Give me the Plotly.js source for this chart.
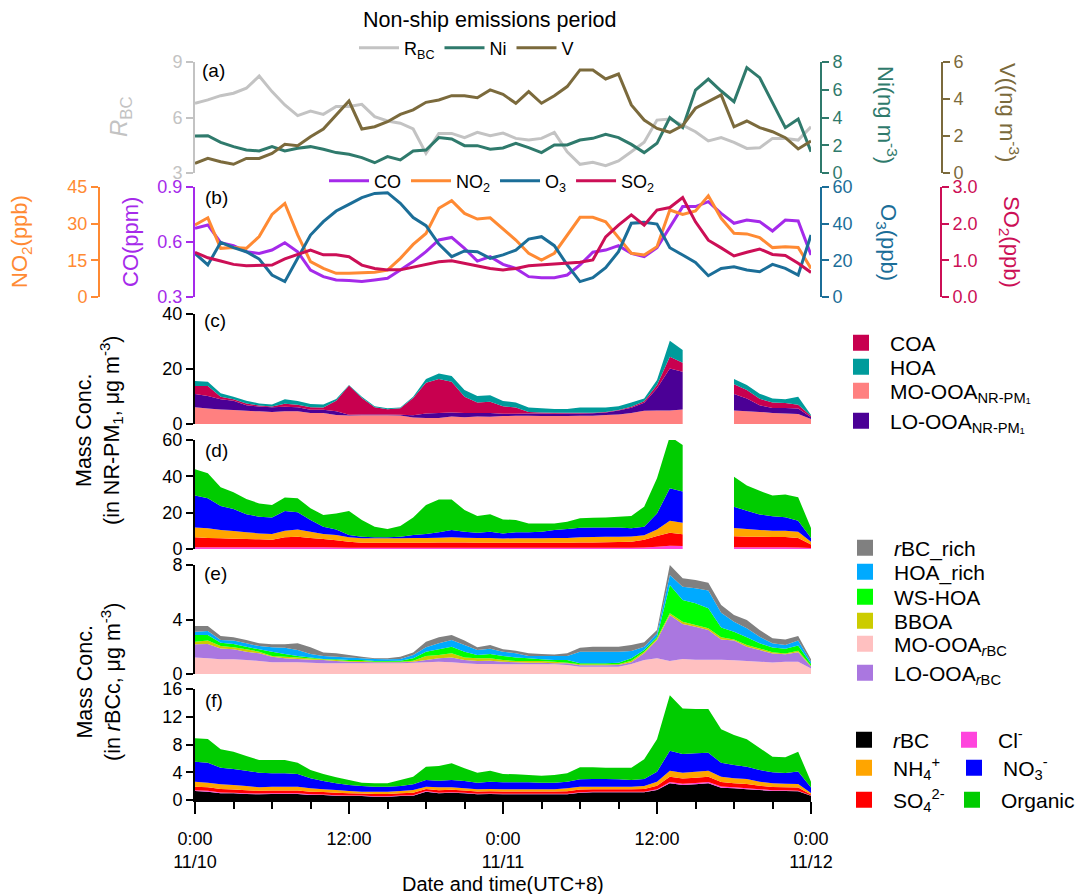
<!DOCTYPE html>
<html><head><meta charset="utf-8">
<script src="https://cdn.plot.ly/plotly-3.0.1.min.js"></script>
<style>body{margin:0;padding:0;background:#fff}#chart{width:1080px;height:894px}</style>
</head><body><div id="chart"></div>
<script>
// ---- time axis (hours since 0:00 11/10) ----
const hours = [0,1,2,3,4,5,6,7,8,9,10,11,12,13,14,15,16,17,18,19,20,21,22,23,24,25,26,27,28,29,30,31,32,33,34,35,36,37,38,39,40,41,42,43,44,45,46,47,48];
const tickHours = [0,12,24,36,48];
const tickLabels = ['0:00<br>11/10','12:00','0:00<br>11/11','12:00','0:00<br>11/12'];

// ---- (a) ----
const rbc = [6.77,6.95,7.18,7.31,7.58,8.24,7.40,6.68,6.10,6.35,6.17,6.59,6.59,6.71,6.05,5.81,5.69,5.38,4.06,5.14,5.14,4.91,5.20,5.02,5.16,4.87,4.78,4.87,5.20,4.15,3.47,3.58,3.40,3.65,4.15,4.66,5.86,5.92,5.59,5.23,4.73,4.91,4.66,4.33,4.36,4.87,4.87,4.78,5.50];
const ni = [2.67,2.69,2.21,1.90,1.66,1.59,1.90,1.59,1.78,1.90,1.71,1.47,1.35,1.11,0.74,1.18,0.94,1.59,1.66,2.55,2.45,1.97,1.97,1.71,1.80,2.14,1.83,1.47,2.02,2.02,2.38,2.50,2.79,2.55,2.06,1.47,2.14,3.99,3.27,5.98,6.77,5.91,5.14,7.59,6.87,5.02,3.27,3.89,1.54];
const vAna = [0.52,0.79,0.61,0.47,0.79,0.79,1.06,1.55,1.48,1.96,2.38,3.14,3.89,2.38,2.50,2.77,3.17,3.41,3.82,3.95,4.18,4.18,4.07,4.49,4.25,3.77,4.40,3.77,4.18,4.67,5.57,5.57,5.08,5.35,3.68,2.86,2.41,2.20,2.56,3.50,3.86,4.22,2.50,2.81,2.45,2.23,1.91,1.30,1.73];

// ---- (b) ----
const co = [0.675,0.693,0.596,0.58,0.547,0.538,0.556,0.596,0.547,0.447,0.411,0.393,0.39,0.384,0.393,0.402,0.447,0.493,0.547,0.611,0.625,0.565,0.496,0.52,0.478,0.456,0.411,0.405,0.405,0.42,0.475,0.544,0.556,0.58,0.538,0.52,0.569,0.684,0.793,0.793,0.82,0.756,0.702,0.72,0.711,0.66,0.72,0.715,0.529];
const no2 = [29.5,32.4,19.9,20.3,19.9,24.7,33.8,38.3,25.4,14.5,11.7,9.7,9.7,9.8,10.1,11.0,15.8,21.5,26.0,36.3,39.4,34.2,31.9,32.4,28.0,23.3,17.9,15.1,17.9,25.4,32.6,32.6,30.8,24.3,17.9,17.2,20.6,35.6,33.8,35.2,41.4,32.2,26.1,25.8,24.3,20.2,20.6,20.3,11.7];
const o3 = [23.8,17.5,29.8,26.9,24.7,20.7,12.0,8.4,21.1,33.8,41.1,46.9,50.5,54.2,56.5,56.9,51.1,43.3,38.9,28.9,22.0,25.1,24.7,21.1,23.0,25.6,31.6,32.9,28.0,17.5,8.4,10.5,16.0,24.7,40.2,40.7,39.8,26.9,22.9,18.9,11.6,15.6,16.5,14.7,13.8,17.8,15.6,12.0,33.8];
const so2 = [1.22,1.07,0.98,0.89,0.85,0.86,0.87,1.04,1.15,1.28,1.15,1.15,1.10,0.87,0.78,0.74,0.74,0.81,0.87,0.96,0.99,0.92,0.85,0.78,0.74,0.78,0.85,0.87,0.89,0.92,0.95,1.01,1.64,1.96,2.24,1.96,2.37,2.44,2.71,2.05,1.55,1.34,1.12,1.22,1.31,1.16,1.13,0.92,0.67];

// ---- (c) NR-PM1 OA factors (null = no data) ----
const moNR = [6.1,5.6,5.3,5.1,4.8,4.6,4.4,4.6,4.6,4.0,4.0,3.3,3.1,3.2,3.2,3.2,3.1,2.4,2.2,2.2,2.7,2.5,2.7,2.6,2.9,3.0,3.0,2.9,2.9,2.9,3.0,3.0,3.3,3.5,4.0,4.8,4.9,4.9,5.3,null,null,null,4.9,4.6,4.4,4.0,3.8,3.6,1.8];
const loNR = [4.8,4.6,3.7,3.4,2.0,1.8,1.7,1.7,1.5,1.2,1.2,1.3,0.3,0.3,0.3,0.3,0.3,0.8,1.6,1.8,1.5,1.5,1.3,1.4,0.8,0.7,0.8,0.9,0.8,0.9,0.8,0.9,0.9,1.4,1.9,2.9,8.1,15.3,13.7,null,null,null,6.0,4.7,2.4,1.8,2.0,2.0,0.7];
const coa = [2.9,3.6,0.9,0.5,0.7,0.3,0.3,1.1,0.9,0.9,0.8,3.9,10.6,6.0,2.6,1.9,2.3,6.3,11.2,12.4,11.2,5.9,3.8,4.1,2.8,2.3,0.6,0.4,0.4,0.3,0.3,0.2,0.2,0.2,0.4,0.6,1.2,4.3,3.3,null,null,null,3.6,3.1,2.4,2.0,1.8,1.4,0.4];
const hoaNR = [1.8,1.6,1.3,0.9,1.0,0.8,0.7,1.6,1.4,1.2,1.1,0.6,0.2,0.4,0.4,0.3,0.3,0.4,1.4,2.0,2.1,2.5,2.4,2.4,1.9,1.8,1.6,1.5,1.4,1.4,1.9,1.9,1.6,1.4,1.5,1.0,1.8,5.8,4.6,null,null,null,1.9,1.8,1.8,1.5,1.4,2.9,0.4];

// ---- (d) NR-PM1 species ----
const clD = [0.9,0.9,0.9,0.9,0.9,0.9,0.9,0.9,0.9,0.9,0.9,0.8,0.7,0.7,0.7,0.7,0.7,0.7,0.7,0.7,0.7,0.7,0.7,0.7,0.7,0.7,0.7,0.7,0.7,0.7,0.7,0.7,0.7,0.7,0.7,0.8,1.2,1.8,1.6,null,null,null,0.9,0.9,0.9,0.9,0.9,0.8,0.5];
const so4D = [5.5,5.1,5.0,4.8,4.6,4.4,4.2,5.5,5.9,5.1,4.6,4.0,3.3,2.8,2.8,2.8,2.8,2.8,2.8,2.9,2.9,2.9,2.8,2.8,2.7,2.7,2.7,2.7,2.8,2.8,2.9,2.9,3.0,3.1,3.3,4.3,6.0,7.2,6.5,null,null,null,6.1,5.9,5.9,5.7,5.7,5.2,2.0];
const nh4D = [5.5,5.4,4.6,4.2,3.7,3.3,3.2,3.7,4.0,3.5,2.8,2.9,2.4,2.4,2.4,2.4,2.4,2.5,2.5,2.6,2.8,2.6,2.5,2.5,2.4,2.5,2.5,2.5,2.5,2.6,2.8,3.0,3.1,3.0,2.9,2.5,3.6,6.6,6.4,null,null,null,4.5,4.2,3.7,3.4,3.4,3.5,1.5];
const no3D = [17.5,16.5,13.2,12.1,9.9,9.2,9.1,10.8,9.4,6.5,4.0,3.1,1.3,0.9,0.5,0.5,0.9,1.7,2.3,3.0,4.1,3.3,3.0,3.5,2.8,3.3,3.3,3.6,4.5,4.9,5.3,5.3,5.1,5.1,4.5,4.7,8.8,17.8,17.1,null,null,null,11.8,10.0,8.5,8.0,7.5,6.0,2.0];
const orgD = [14.5,13.8,10.3,9.2,8.4,7.3,6.8,7.5,7.7,6.4,6.4,8.8,13.2,9.2,5.9,4.6,5.9,9.7,15.9,18.1,16.8,12.0,9.2,9.6,7.7,6.8,4.9,4.6,3.6,4.0,5.2,5.3,5.5,5.9,6.8,11.0,19.3,28.6,25.7,null,null,null,16.5,14.0,13.0,11.5,12.5,13.0,5.5];

// ---- (e) rBCc OA factors ----
const moRBC = [1.22,1.15,1.08,1.08,1.03,0.95,0.86,0.86,0.86,0.83,0.78,0.78,0.78,0.78,0.78,0.78,0.78,0.83,0.86,0.90,0.86,0.78,0.73,0.73,0.71,0.71,0.71,0.71,0.71,0.66,0.54,0.54,0.54,0.54,0.73,1.03,1.15,0.95,1.10,1.05,1.05,1.05,1.00,0.95,0.90,0.85,0.90,0.90,0.40];
const loRBC = [0.96,1.05,0.80,0.73,0.61,0.57,0.41,0.29,0.24,0.22,0.25,0.17,0.12,0.10,0.08,0.08,0.08,0.07,0.17,0.25,0.36,0.25,0.22,0.25,0.19,0.15,0.12,0.12,0.07,0.12,0.10,0.10,0.10,0.12,0.13,0.49,1.35,3.38,2.57,2.42,2.18,1.49,1.45,1.05,0.86,0.65,0.55,0.70,0.15];
const bboa = [0.19,0.25,0.17,0.15,0.17,0.12,0.05,0.12,0.12,0.08,0.05,0.08,0.05,0.07,0.04,0.04,0.04,0.08,0.29,0.24,0.30,0.19,0.20,0.17,0.13,0.09,0.12,0.12,0.12,0.05,0.07,0.07,0.07,0.05,0.12,0.12,0.12,0.12,0.17,0.13,0.12,0.15,0.09,0.13,0.12,0.10,0.05,0.10,0.05];
const wsHoa = [0.49,0.41,0.25,0.24,0.19,0.17,0.32,0.20,0.10,0.08,0.02,0.05,0.08,0.08,0.05,0.05,0.08,0.17,0.32,0.42,0.48,0.42,0.24,0.32,0.29,0.27,0.20,0.13,0.13,0.20,0.07,0.07,0.07,0.12,0.17,0.12,0.12,2.08,1.59,1.59,1.47,0.73,0.57,0.56,0.37,0.35,0.35,0.40,0.15];
const hoaRich = [0.25,0.29,0.20,0.25,0.25,0.24,0.32,0.46,0.44,0.26,0.22,0.19,0.19,0.12,0.15,0.13,0.12,0.24,0.32,0.44,0.50,0.49,0.37,0.39,0.32,0.30,0.17,0.24,0.29,0.29,0.86,0.86,0.86,0.81,0.54,0.24,0.24,0.74,0.98,1.10,1.30,1.08,0.73,0.66,0.49,0.30,0.28,0.35,0.15];
const rbcRich = [0.41,0.37,0.29,0.24,0.25,0.20,0.22,0.25,0.49,0.49,0.25,0.25,0.17,0.12,0.05,0.07,0.17,0.18,0.41,0.44,0.36,0.32,0.20,0.27,0.17,0.19,0.20,0.15,0.12,0.20,0.29,0.36,0.36,0.36,0.44,0.33,0.25,0.73,0.61,0.61,0.58,0.56,0.49,0.61,0.49,0.37,0.41,0.34,0.18];

// ---- (f) rBCc species ----
const rbcF = [1.30,1.20,0.96,0.96,0.86,0.82,0.86,0.86,0.86,0.72,0.72,0.62,0.58,0.58,0.48,0.48,0.58,0.62,1.20,0.96,1.05,0.96,0.82,0.86,0.82,0.82,0.82,0.82,0.82,0.82,1.05,1.11,1.11,1.11,1.11,1.11,1.44,2.40,2.16,2.26,2.40,1.78,1.68,1.54,1.44,1.30,1.30,1.25,0.60];
const clF = [0.12,0.12,0.12,0.10,0.10,0.10,0.10,0.10,0.10,0.10,0.08,0.08,0.08,0.07,0.07,0.07,0.07,0.08,0.08,0.08,0.08,0.08,0.08,0.08,0.08,0.08,0.08,0.08,0.08,0.08,0.08,0.08,0.08,0.08,0.08,0.08,0.10,0.20,0.20,0.20,0.20,0.15,0.15,0.15,0.12,0.12,0.10,0.10,0.05];
const so4F = [0.50,0.50,0.50,0.45,0.45,0.40,0.40,0.40,0.40,0.38,0.35,0.35,0.32,0.28,0.32,0.32,0.32,0.35,0.32,0.37,0.34,0.32,0.32,0.32,0.32,0.32,0.32,0.32,0.32,0.36,0.37,0.35,0.35,0.35,0.35,0.40,0.50,0.75,0.75,0.75,0.75,0.65,0.60,0.60,0.50,0.45,0.45,0.45,0.15];
const nh4F = [0.72,0.68,0.68,0.65,0.61,0.51,0.56,0.56,0.56,0.48,0.39,0.39,0.32,0.27,0.33,0.33,0.33,0.39,0.32,0.42,0.36,0.32,0.32,0.34,0.32,0.32,0.32,0.32,0.32,0.42,0.42,0.38,0.38,0.38,0.38,0.43,0.60,0.88,0.83,0.87,0.88,0.78,0.69,0.74,0.58,0.53,0.50,0.50,0.20];
const no3F = [2.88,2.88,2.40,2.31,2.21,2.11,1.92,1.92,1.83,1.44,1.20,0.96,0.86,0.82,0.72,0.72,0.72,0.82,0.96,0.96,1.05,1.06,0.96,1.04,1.01,1.01,1.01,0.96,0.96,0.96,1.06,1.11,1.11,1.06,0.96,1.01,1.44,2.87,2.69,2.65,2.59,2.02,1.92,1.77,1.68,1.60,1.55,1.80,0.80];
const orgF = [3.37,3.41,2.64,2.49,2.11,1.82,1.92,1.92,1.63,1.20,1.01,0.87,0.72,0.48,0.48,0.48,0.86,1.10,1.92,2.11,2.40,1.82,1.44,1.59,1.20,1.15,1.05,1.01,1.10,1.20,1.73,1.68,1.63,1.68,1.78,2.83,4.66,8.00,6.57,6.37,6.28,4.82,4.33,3.94,3.18,2.24,2.25,2.86,0.84];

// ---------------- drawing ----------------
const W = 1080, H = 894;
const FONT = 'Liberation Sans, Arial, sans-serif';
const px = v => v / W;
const py = v => 1 - v / H;

const C = {
  rbc:'#c3c3c3', ni:'#2f7a6c', v:'#7b6a3c',
  co:'#a52aea', no2:'#ff8a33', o3:'#1b6e98', so2:'#cc0f56',
  coa:'#c8004f', hoa:'#009b9b', moNR:'#ff8080', loNR:'#4b0096',
  org:'#00cc00', no3:'#0000ff', nh4:'#ffa500', so4:'#ff0000', cl:'#ff44dd', bc:'#000000',
  rbcRich:'#808080', hoaRich:'#00aaff', ws:'#00ff00', bboa:'#cccc00', moRBC:'#ffc0c0', loRBC:'#aa77e0'
};

const traces = [];
function lineTr(y, name, color, yaxis, legend) {
  traces.push({x: hours, y: y, name: name, type: 'scatter', mode: 'lines', xaxis: 'x', yaxis: yaxis,
    line: {color: color, width: 3}, legend: legend, hoverinfo: 'skip'});
}
lineTr(rbc, 'R<sub>BC</sub>', C.rbc, 'y', 'legend');
lineTr(ni, 'Ni', C.ni, 'y2', 'legend');
lineTr(vAna, 'V', C.v, 'y3', 'legend');
lineTr(co, 'CO', C.co, 'y4', 'legend2');
lineTr(no2, 'NO<sub>2</sub>', C.no2, 'y5', 'legend2');
lineTr(o3, 'O<sub>3</sub>', C.o3, 'y6', 'legend2');
lineTr(so2, 'SO<sub>2</sub>', C.so2, 'y7', 'legend2');

function areaTr(xs, ys, color, yaxis, group) {
  traces.push({x: xs, y: ys, type: 'scatter', mode: 'none', stackgroup: group, fillcolor: color,
    xaxis: 'x', yaxis: yaxis, showlegend: false, hoverinfo: 'skip'});
}
// panels with a data gap: draw each continuous segment as its own stack
const segs = [[0, 39], [42, 49]];
segs.forEach((s, k) => {
  const sl = a => a.slice(s[0], s[1]);
  const xs = sl(hours);
  areaTr(xs, sl(moNR), C.moNR, 'y8', 'c' + k);
  areaTr(xs, sl(loNR), C.loNR, 'y8', 'c' + k);
  areaTr(xs, sl(coa), C.coa, 'y8', 'c' + k);
  areaTr(xs, sl(hoaNR), C.hoa, 'y8', 'c' + k);
  areaTr(xs, sl(clD), C.cl, 'y9', 'd' + k);
  areaTr(xs, sl(so4D), C.so4, 'y9', 'd' + k);
  areaTr(xs, sl(nh4D), C.nh4, 'y9', 'd' + k);
  areaTr(xs, sl(no3D), C.no3, 'y9', 'd' + k);
  areaTr(xs, sl(orgD), C.org, 'y9', 'd' + k);
});
areaTr(hours, moRBC, C.moRBC, 'y10', 'e');
areaTr(hours, loRBC, C.loRBC, 'y10', 'e');
areaTr(hours, bboa, C.bboa, 'y10', 'e');
areaTr(hours, wsHoa, C.ws, 'y10', 'e');
areaTr(hours, hoaRich, C.hoaRich, 'y10', 'e');
areaTr(hours, rbcRich, C.rbcRich, 'y10', 'e');
areaTr(hours, rbcF, C.bc, 'y11', 'f');
areaTr(hours, clF, C.cl, 'y11', 'f');
areaTr(hours, so4F, C.so4, 'y11', 'f');
areaTr(hours, nh4F, C.nh4, 'y11', 'f');
areaTr(hours, no3F, C.no3, 'y11', 'f');
areaTr(hours, orgF, C.org, 'y11', 'f');

// axes
const TF = 18;
function yax(top, bot, range, color, tickvals, extra) {
  return Object.assign({
    domain: [py(bot), py(top)], range: range, showline: true, linecolor: color, linewidth: 2,
    ticks: 'outside', ticklen: 7, tickwidth: 2, tickcolor: color, tickmode: 'array', tickvals: tickvals,
    tickfont: {family: FONT, size: TF, color: color}, showgrid: false, zeroline: false,
    fixedrange: true, anchor: 'x'
  }, extra || {});
}
const aTop = 62, aBot = 173, bTop = 187, bBot = 297;
const layout = {
  width: W, height: H, margin: {l: 0, r: 0, t: 0, b: 0}, paper_bgcolor: '#fff', plot_bgcolor: 'rgba(0,0,0,0)',
  showlegend: true, font: {family: FONT, size: 17, color: '#000'},
  xaxis: {
    domain: [px(195), px(811)], range: [0, 48], anchor: 'y11', showline: true, linecolor: '#000', linewidth: 2,
    ticks: 'outside', ticklen: 12, tickwidth: 2, tickcolor: '#000', tickmode: 'array',
    tickvals: tickHours, ticktext: tickLabels, tickfont: {family: FONT, size: TF, color: '#000'},
    ticklabelstandoff: 9, showgrid: false, zeroline: false, fixedrange: true,
    minor: {tickmode: 'linear', tick0: 0, dtick: 3, ticks: 'outside', ticklen: 7, tickwidth: 2, tickcolor: '#000', showgrid: false}
  },
  yaxis: yax(aTop, aBot, [3, 9], C.rbc, [3, 6, 9]),
  yaxis2: yax(aTop, aBot, [0, 8], C.ni, [0, 2, 4, 6, 8], {overlaying: 'y', side: 'right', anchor: 'free', position: px(821)}),
  yaxis3: yax(aTop, aBot, [0, 6], C.v, [0, 2, 4, 6], {overlaying: 'y', side: 'right', anchor: 'free', position: px(942)}),
  yaxis4: yax(bTop, bBot, [0.3, 0.9], C.co, [0.3, 0.6, 0.9], {tickformat: '.1f'}),
  yaxis5: yax(bTop, bBot, [0, 45], C.no2, [0, 15, 30, 45], {overlaying: 'y4', side: 'left', anchor: 'free', position: px(99)}),
  yaxis6: yax(bTop, bBot, [0, 60], C.o3, [0, 20, 40, 60], {overlaying: 'y4', side: 'right', anchor: 'free', position: px(821)}),
  yaxis7: yax(bTop, bBot, [0, 3], C.so2, [0, 1, 2, 3], {overlaying: 'y4', side: 'right', anchor: 'free', position: px(941), tickformat: '.1f'}),
  yaxis8: yax(314, 424, [0, 40], '#000', [0, 20, 40]),
  yaxis9: yax(440, 549, [0, 60], '#000', [0, 20, 40, 60]),
  yaxis10: yax(565, 674, [0, 8], '#000', [0, 4, 8]),
  yaxis11: yax(689, 800, [0, 16], '#000', [0, 4, 8, 12, 16]),
  legend: {orientation: 'h', x: px(354), y: py(48), xanchor: 'left', yanchor: 'middle', bgcolor: 'rgba(0,0,0,0)',
    font: {size: 18}, itemwidth: 40, traceorder: 'normal'},
  legend2: {orientation: 'h', x: px(324), y: py(181), xanchor: 'left', yanchor: 'middle', bgcolor: 'rgba(0,0,0,0)',
    font: {size: 18}, itemwidth: 40, traceorder: 'normal'},
  annotations: []
};

// legend swatches: one small legend per entry so each can sit where the reference has it
let legN = 3;
function sw(name, color, xc, yc) {
  const id = 'legend' + legN++;
  traces.push({x: [null], y: [null], type: 'scatter', mode: 'markers', name: name, legend: id,
    xaxis: 'x', yaxis: 'y8', marker: {symbol: 'square', size: 16, color: color}, hoverinfo: 'skip'});
  layout[id] = {x: px(xc - 29), y: py(yc), xanchor: 'left', yanchor: 'middle', bgcolor: 'rgba(0,0,0,0)',
    font: {size: 21}, itemwidth: 48};
}
sw('COA', C.coa, 861, 343);
sw('HOA', C.hoa, 861, 367);
sw('MO-OOA<sub>NR-PM₁</sub>', C.moNR, 861, 391);
sw('LO-OOA<sub>NR-PM₁</sub>', C.loNR, 861, 421);
sw('<i>r</i>BC_rich', C.rbcRich, 865, 548);
sw('HOA_rich', C.hoaRich, 865, 572);
sw('WS-HOA', C.ws, 865, 597);
sw('BBOA', C.bboa, 865, 621);
sw('MO-OOA<sub><i>r</i>BC</sub>', C.moRBC, 865, 644);
sw('LO-OOA<sub><i>r</i>BC</sub>', C.loRBC, 865, 673);
sw('<i>r</i>BC', C.bc, 864, 740);
sw('NH<sub>4</sub><sup>+</sup>', C.nh4, 864, 768);
sw('SO<sub>4</sub><sup>2-</sup>', C.so4, 864, 800);
sw('Cl<sup>-</sup>', C.cl, 969, 740);
sw('NO<sub>3</sub><sup>-</sup>', C.no3, 974, 768);
sw('Organic', C.org, 972, 800);

function ann(text, x, y, opts) {
  layout.annotations.push(Object.assign({text: text, x: px(x), y: py(y), xref: 'paper', yref: 'paper',
    showarrow: false, xanchor: 'center', yanchor: 'middle', font: {family: FONT, size: 20, color: '#000'}}, opts || {}));
}
const f = (s, c) => ({family: FONT, size: s, color: c || '#000'});
ann('Non-ship emissions period', 489, 20, {font: f(21.5)});
ann('(a)', 213, 71, {font: f(19)});
ann('(b)', 216, 197, {font: f(19)});
ann('(c)', 215, 320, {font: f(19)});
ann('(d)', 216, 450, {font: f(19)});
ann('(e)', 215, 573, {font: f(19)});
ann('(f)', 214, 700, {font: f(19)});
ann('<i>R</i><sub>BC</sub>', 121, 117, {textangle: -90, font: f(24, C.rbc)});
ann('Ni(ng m<sup>-3</sup>)', 887, 115, {textangle: 90, font: f(22, C.ni)});
ann('V((ng m<sup>-3</sup>)', 1009, 112, {textangle: 90, font: f(22, C.v)});
ann('NO<sub>2</sub>(ppb)', 21, 242, {textangle: -90, font: f(22, C.no2)});
ann('CO(ppm)', 131, 242, {textangle: -90, font: f(22, C.co)});
ann('O<sub>3</sub>(ppb)', 887, 242, {textangle: 90, font: f(22, C.o3)});
ann('SO<sub>2</sub>(ppb)', 1010, 242, {textangle: 90, font: f(22, C.so2)});
ann('Mass Conc.<br>(in NR-PM<sub>1</sub>, μg m<sup>-3</sup>)', 99, 431, {textangle: -90, font: f(21.5)});
ann('Mass Conc.<br>(in <i>r</i>BCc, μg m<sup>-3</sup>)', 99, 682, {textangle: -90, font: f(21.5)});
ann('Date and time(UTC+8)', 503, 884, {font: f(20)});

Plotly.newPlot('chart', traces, layout, {staticPlot: true, displayModeBar: false});
</script>
</body></html>
